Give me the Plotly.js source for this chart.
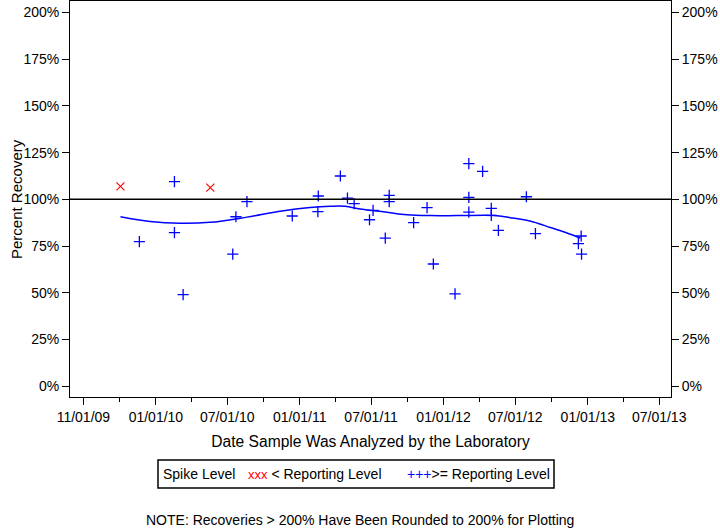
<!DOCTYPE html>
<html>
<head>
<meta charset="utf-8">
<script src="https://cdn.plot.ly/plotly-3.0.1.min.js"></script>
<style>
  html, body { margin: 0; padding: 0; background: #fff; }
  #chart { width: 720px; height: 528px; }
</style>
</head>
<body>
<div id="chart"></div>
<script>
// Spikes below reporting level (red x)
const belowDates = ['2009-10-03', '2010-05-19'];
const belowValues = [107.0, 106.3];

// Spikes at/above reporting level (blue +)
const aboveDates = [
  '2009-11-20', '2010-02-17', '2010-02-17', '2010-03-11', '2010-07-15',
  '2010-07-23', '2010-08-20', '2010-12-13', '2011-02-17', '2011-02-16',
  '2011-04-14', '2011-05-02', '2011-05-19', '2011-07-06', '2011-06-27',
  '2011-08-16', '2011-08-16', '2011-08-06', '2011-10-17', '2011-11-20',
  '2011-12-06', '2012-01-30', '2012-03-05', '2012-03-05', '2012-03-05',
  '2012-04-09', '2012-05-01', '2012-05-01', '2012-05-19', '2012-07-29',
  '2012-08-21', '2012-12-15', '2012-12-08', '2012-12-16'
];
const aboveValues = [
  77.4, 109.5, 82.2, 49.0, 70.7,
  90.7, 98.8, 91.1, 101.8, 93.4,
  112.5, 100.7, 97.7, 94.1, 89.1,
  102.1, 98.8, 79.3, 87.5, 95.6,
  65.4, 49.4, 119.1, 101.1, 93.2,
  115.0, 95.2, 91.4, 83.4, 101.4,
  81.7, 80.4, 76.3, 70.7
];

// Smoothed trend line
const fitDates = [
  '2009-10-03', '2009-12-17', '2010-03-03', '2010-05-18', '2010-08-20',
  '2010-11-12', '2011-01-27', '2011-03-19', '2011-04-26', '2011-06-03',
  '2011-08-01', '2011-09-30', '2011-11-28', '2012-02-04', '2012-05-07',
  '2012-06-18', '2012-08-16', '2012-09-28', '2012-11-09', '2012-12-13'
];
const fitValues = [
  90.7, 88.2, 87.2, 87.7, 90.5,
  93.6, 95.6, 96.3, 96.3, 94.8,
  93.4, 91.8, 91.3, 91.3, 91.4,
  90.2, 87.9, 84.9, 82.0, 79.3
];

const xTickVals = ['2009-07-01', '2010-01-01', '2010-07-01', '2011-01-01', '2011-07-01',
                   '2012-01-01', '2012-07-01', '2013-01-01', '2013-07-01'];
const xTickText = ['11/01/09', '01/01/10', '07/01/10', '01/01/11', '07/01/11',
                   '01/01/12', '07/01/12', '01/01/13', '07/01/13'];
const xMinorVals = ['2009-10-01', '2010-04-01', '2010-10-01', '2011-04-01', '2011-10-01',
                    '2012-04-01', '2012-10-01', '2013-04-01'];
const yTickVals = [0, 25, 50, 75, 100, 125, 150, 175, 200];
const yTickText = ['0%', '25%', '50%', '75%', '100%', '125%', '150%', '175%', '200%'];
const referenceLevel = 100;

const FONT = 'Liberation Sans, Arial, sans-serif';
const yRange = [-5.8, 206.2];
const PW = 601, PH = 396;

const traces = [
  {
    x: fitDates, y: fitValues, type: 'scatter', mode: 'lines',
    line: { color: '#0000ff', width: 1.5, shape: 'spline', smoothing: 1 },
    hoverinfo: 'skip'
  },
  {
    x: aboveDates, y: aboveValues, type: 'scatter', mode: 'markers',
    marker: { symbol: 'cross-thin-open', size: 8, color: '#0000ff', line: { color: '#0000ff', width: 1.3 } }
  },
  {
    x: belowDates, y: belowValues, type: 'scatter', mode: 'markers',
    marker: { symbol: 'x-thin-open', size: 8, color: '#ff0000', line: { color: '#ff0000', width: 1.1 } }
  },
  {
    x: [], y: [], yaxis: 'y2', type: 'scatter', mode: 'markers', hoverinfo: 'skip'
  }
];

const layout = {
  width: 720, height: 528,
  margin: { l: 70, r: 49, t: 1, b: 131 },
  paper_bgcolor: '#ffffff', plot_bgcolor: '#ffffff',
  showlegend: false,
  font: { family: FONT, size: 14, color: '#000000' },
  xaxis: {
    type: 'date',
    range: ['2009-05-28', '2013-07-31'],
    tickmode: 'array', tickvals: xTickVals, ticktext: xTickText,
    ticks: 'outside', ticklen: 7, tickwidth: 1, tickcolor: '#000',
    minor: { tickmode: 'array', tickvals: xMinorVals, ticks: 'outside', ticklen: 4, tickcolor: '#000', showgrid: false },
    showline: true, linecolor: '#000', linewidth: 1, mirror: true,
    showgrid: false, zeroline: false,
    tickfont: { family: FONT, size: 14, color: '#000' },
    title: { text: 'Date Sample Was Analyzed by the Laboratory', font: { family: FONT, size: 15.6, color: '#000' }, standoff: 12 }
  },
  yaxis: {
    range: yRange,
    tickmode: 'array', tickvals: yTickVals, ticktext: yTickText,
    ticks: 'outside', ticklen: 7, tickwidth: 1, tickcolor: '#000',
    showline: true, linecolor: '#000', linewidth: 1,
    showgrid: false, zeroline: false,
    tickfont: { family: FONT, size: 14, color: '#000' }
  },
  yaxis2: {
    overlaying: 'y', side: 'right',
    range: yRange,
    tickmode: 'array', tickvals: yTickVals, ticktext: yTickText,
    ticks: 'outside', ticklen: 7, tickwidth: 1, tickcolor: '#000',
    showline: true, linecolor: '#000', linewidth: 1,
    showgrid: false, zeroline: false,
    tickfont: { family: FONT, size: 14, color: '#000' }
  },
  shapes: [
    { type: 'line', xref: 'paper', x0: 0, x1: 1, yref: 'y', y0: referenceLevel, y1: referenceLevel,
      line: { color: '#000', width: 1.5 } },
    { type: 'rect', xref: 'paper', yref: 'paper',
      x0: (158 - 70) / PW, x1: (554 - 70) / PW,
      y0: -(487 - 396) / PH, y1: -(459 - 396) / PH,
      line: { color: '#000', width: 1.5 }, fillcolor: 'rgba(0,0,0,0)' }
  ],
  annotations: [
    { xref: 'paper', yref: 'paper', x: (16 - 70) / PW, y: (396 - 198) / PH,
      xanchor: 'center', yanchor: 'middle', showarrow: false, textangle: -90,
      text: 'Percent Recovery', font: { family: FONT, size: 15, color: '#000' } },
    { xref: 'paper', yref: 'paper', x: (161 - 70) / PW, y: -(473 - 396) / PH,
      xanchor: 'left', yanchor: 'middle', showarrow: false,
      text: 'Spike Level', font: { family: FONT, size: 14, color: '#000' } },
    { xref: 'paper', yref: 'paper', x: (246 - 70) / PW, y: -(473 - 396) / PH,
      xanchor: 'left', yanchor: 'middle', showarrow: false,
      text: '<span style="color:#ff0000;font-size:13px">xxx</span> &lt; Reporting Level',
      font: { family: FONT, size: 14, color: '#000' } },
    { xref: 'paper', yref: 'paper', x: (405 - 70) / PW, y: -(473 - 396) / PH,
      xanchor: 'left', yanchor: 'middle', showarrow: false,
      text: '<span style="color:#0000ff;font-size:14px">+++</span>&gt;= Reporting Level',
      font: { family: FONT, size: 14, color: '#000' } },
    { xref: 'paper', yref: 'paper', x: (360 - 70) / PW, y: -(519 - 396) / PH,
      xanchor: 'center', yanchor: 'middle', showarrow: false,
      text: 'NOTE: Recoveries &gt; 200% Have Been Rounded to 200% for Plotting',
      font: { family: FONT, size: 14, color: '#000' } }
  ]
};

Plotly.newPlot('chart', traces, layout, { staticPlot: true, displayModeBar: false });
</script>
</body>
</html>
